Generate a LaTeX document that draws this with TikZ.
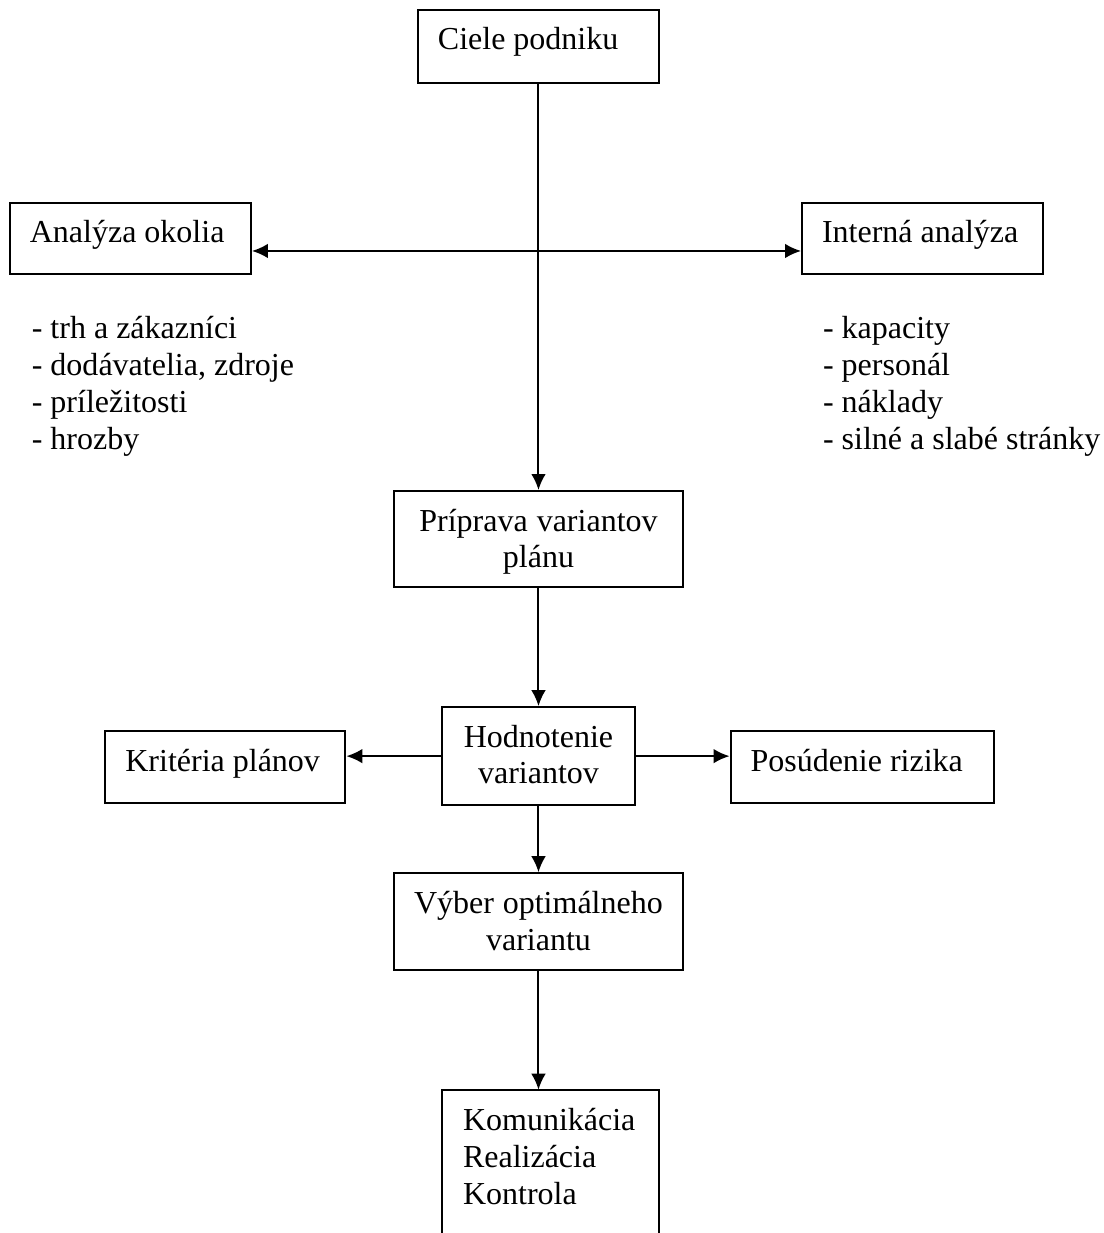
\documentclass[tikz,border=0pt]{standalone}
\usepackage{fontspec}
\setmainfont{Liberation Serif}
\usetikzlibrary{shapes,arrows,arrows.meta,positioning,calc}
\tikzset{
box/.style = {draw, fill=white, rectangle, inner xsep=7.5pt, inner ysep=0pt, align=left, text height=15pt, font=\fontsize{12}{13.8}\selectfont, execute at begin node={\spaceskip=0pt\xspaceskip=0pt}},
cbox/.style = {box, inner xsep=3pt, align=center},
openbox/.style = {box, draw=none, fill=none},
listtext/.style = {inner sep=0pt, align=left, text width=110pt, text height=10pt, font=\fontsize{12}{13.8}\selectfont, execute at begin node={\spaceskip=0pt\xspaceskip=0pt}},
tmp/.style = {coordinate}
}
\begin{document}
\begin{tikzpicture}[auto, node distance=2cm, >={Latex[length=6pt,width=5.5pt]}, line width=0.75pt]
\useasboundingbox (-201.9pt,17.4pt) rectangle (211.7pt,-444.9pt);
\node[box, text width=75.4pt, text depth=12.4pt] (ciele) {Ciele podniku};
\node[tmp, below of=ciele, node distance=76.7pt] (cross) {};
\node[box, left of=ciele, node distance=153pt, yshift=-72pt, text width=75.4pt, text depth=11.6pt] (analyza) {Analýza okolia};
\node[box, right of=ciele, node distance=144pt, yshift=-72pt, text width=75.4pt, text depth=11.6pt] (interna) {Interná analýza};
\node[listtext, below right=13.6pt and 8.25pt of analyza.south west] (okolie) {- trh a zákazníci\\- dodávatelia, zdroje\\- príležitosti\\- hrozby};
\node[listtext, below right=13.6pt and 7.9pt of interna.south west] (vnutro) {- kapacity\\- personál\\- náklady\\- silné a slabé stránky};
\node[cbox, below of=ciele, node distance=184.7pt, text width=102pt, text depth=21pt] (priprava) {Príprava variantov\\plánu};
\node[cbox, below of=priprava, node distance=81.4pt, text width=66pt, text depth=21.75pt] (hodnotenie) {Hodnotenie\\variantov};
\node[box, left of=hodnotenie, node distance=117.4pt, yshift=-4.1pt, text width=75pt, text depth=12pt] (kriteria) {Kritéria plánov};
\node[box, right of=hodnotenie, node distance=121.3pt, yshift=-4.1pt, text width=83.6pt, text depth=12pt] (riziko) {Posúdenie rizika};
\node[cbox, below of=hodnotenie, node distance=62.1pt, text width=102pt, text depth=21.4pt] (vyber) {Výber optimálneho\\variantu};
\node[openbox, below of=vyber, node distance=92.4pt, xshift=4.5pt, text width=65.6pt, text depth=43.1pt] (realizacia) {Komunikácia\\Realizácia\\Kontrola};
\draw[->] (ciele) -- (priprava);
\draw[<->] (analyza.east |- cross) -- (interna.west |- cross);
\draw[->] (priprava) -- (hodnotenie);
\draw[->] (hodnotenie) -- (kriteria.east |- hodnotenie);
\draw[->] (hodnotenie) -- (riziko.west |- hodnotenie);
\draw[->] (hodnotenie) -- (vyber);
\draw[->] (vyber) -- (vyber.south |- realizacia.north);
\draw (realizacia.south west) -- (realizacia.north west) -- (realizacia.north east) -- (realizacia.south east);
\end{tikzpicture}
\end{document}
